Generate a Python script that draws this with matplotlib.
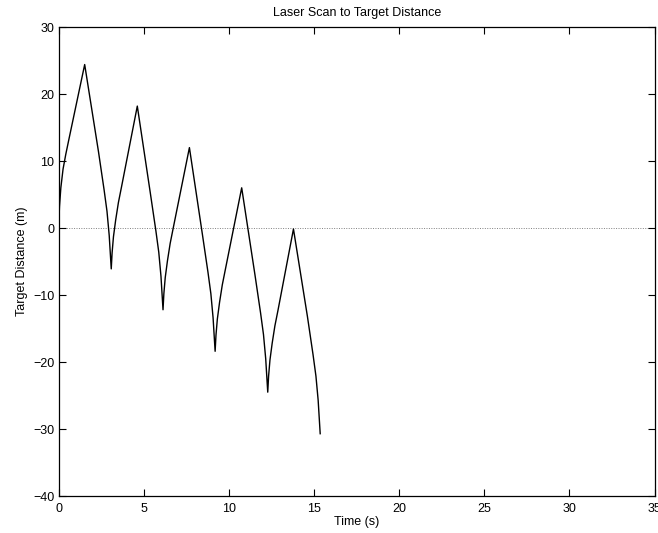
import matplotlib
matplotlib.use("Agg")
import matplotlib.pyplot as plt

# Laser scan range to a moving target, sampled along the sweep
time_s = [
    0.00, 0.05, 0.13, 0.26, 0.42, 0.60, 1.53,
    2.34, 2.67, 2.84, 2.97, 3.09,
    3.14, 3.22, 3.35, 3.51, 3.69, 4.62,
    5.38, 5.71, 5.88, 6.01, 6.13,
    6.18, 6.26, 6.39, 6.55, 6.73, 7.68,
    8.44, 8.77, 8.94, 9.07, 9.19,
    9.24, 9.32, 9.45, 9.61, 9.79, 10.75,
    11.53, 11.86, 12.03, 12.16, 12.28,
    12.33, 12.41, 12.54, 12.70, 12.88, 13.79,
    14.61, 14.94, 15.11, 15.24, 15.36,
]
distance_m = [
    0.0, 3.2, 6.0, 8.8, 11.0, 13.2, 24.4,
    11.4, 5.7, 2.5, -1.1, -6.1,
    -3.7, -1.3, 1.2, 3.8, 6.1, 18.2,
    5.3, -0.4, -3.6, -7.2, -12.2,
    -9.8, -7.4, -4.9, -2.3, 0.0, 12.0,
    -0.9, -6.6, -9.8, -13.4, -18.4,
    -16.0, -13.6, -11.1, -8.5, -6.2, 6.0,
    -7.0, -12.7, -15.9, -19.5, -24.5,
    -22.1, -19.7, -17.2, -14.6, -12.3, -0.15,
    -13.2, -18.9, -22.1, -25.7, -30.7,
]

x_ticks = [0, 5, 10, 15, 20, 25, 30, 35]
y_ticks = [-40, -30, -20, -10, 0, 10, 20, 30]

plt.rcParams["font.family"] = ["Liberation Sans", "DejaVu Sans"]
plt.rcParams["axes.unicode_minus"] = True

fig = plt.figure(figsize=(6.58, 5.33), dpi=100)
ax = fig.add_axes([0.0891, 0.0694, 0.9058, 0.8799])

ax.axhline(0, color="#808080", linestyle=(0, (1, 1.5)), linewidth=0.7, zorder=1)
ax.plot(time_s, distance_m, color="black", linewidth=1.0, zorder=2)

ax.set_xlim(0, 35)
ax.set_ylim(-40, 30)
ax.set_xticks(x_ticks)
ax.set_yticks(y_ticks)
ax.tick_params(direction="in", length=5, width=0.8, top=True, right=True,
               labelsize=9, pad=3)
ax.tick_params(axis="x", pad=5)
for s in ax.spines.values():
    s.set_linewidth(0.9)

ax.set_title("Laser Scan to Target Distance", fontsize=9, pad=8)
ax.set_xlabel("Time (s)", fontsize=9, labelpad=1)
ax.set_ylabel("Target Distance (m)", fontsize=9, labelpad=4)

fig.savefig("out.png", dpi=100)
